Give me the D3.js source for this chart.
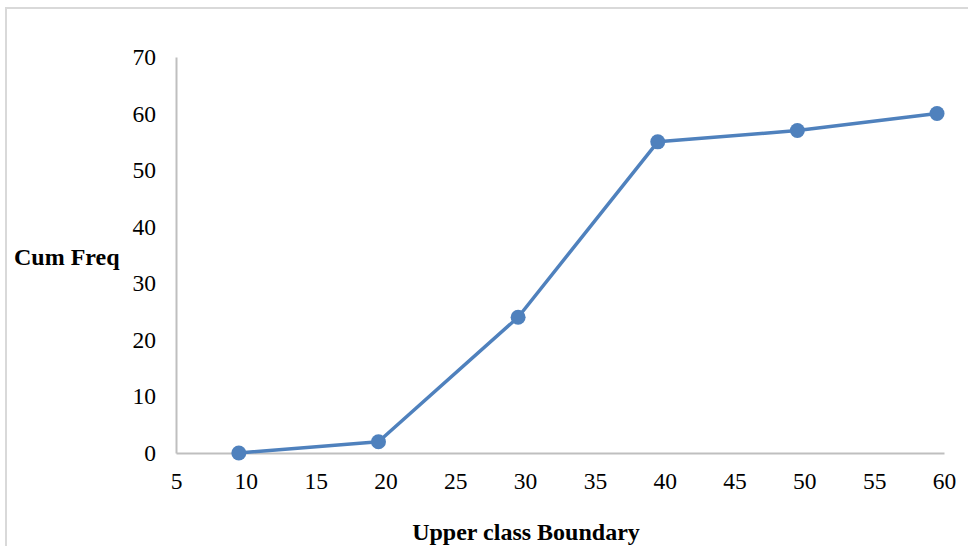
<!DOCTYPE html>
<html>
<head>
<meta charset="utf-8">
<script src="https://cdn.jsdelivr.net/npm/d3@7"></script>
<style>
  html, body { margin: 0; padding: 0; background: #fff; }
  svg { display: block; }
</style>
</head>
<body>
<svg id="chart" width="968" height="546"></svg>
<script>
// Cumulative frequency against upper class boundary (ogive)
const upperBoundaries = [9.5, 19.5, 29.5, 39.5, 49.5, 59.5];
const cumFreq = [0, 2, 24, 55, 57, 60];
const xTicks = [5, 10, 15, 20, 25, 30, 35, 40, 45, 50, 55, 60];
const yTicks = [0, 10, 20, 30, 40, 50, 60, 70];

const svg = d3.select("#chart");
const W = 968, H = 546;
const plot = { left: 176, right: 944, top: 57, bottom: 453 };
const font = "'Liberation Serif', 'Times New Roman', serif";

// outer chart frame
svg.append("rect")
  .attr("x", 6).attr("y", 8)
  .attr("width", W + 10).attr("height", H + 10)
  .attr("fill", "#fff")
  .attr("stroke", "#d9d9d9")
  .attr("stroke-width", 2);

const x = d3.scaleLinear().domain([5, 60]).range([plot.left, plot.right]);
const y = d3.scaleLinear().domain([0, 70]).range([plot.bottom, plot.top]);

// x axis
const xAxis = svg.append("g")
  .attr("transform", `translate(0,${plot.bottom})`)
  .call(d3.axisBottom(x).tickValues(xTicks).tickSize(0).tickPadding(19));
xAxis.select(".domain").attr("stroke", "#bfbfbf").attr("stroke-width", 2);
xAxis.selectAll("text")
  .attr("font-family", font).attr("font-size", 23.5).attr("fill", "#000");

// y axis
const yAxis = svg.append("g")
  .attr("transform", `translate(${plot.left},0)`)
  .call(d3.axisLeft(y).tickValues(yTicks).tickSize(0).tickPadding(20));
yAxis.select(".domain").attr("stroke", "#bfbfbf").attr("stroke-width", 2);
yAxis.selectAll("text")
  .attr("font-family", font).attr("font-size", 23.5).attr("fill", "#000");

// axis titles
svg.append("text")
  .attr("x", 14).attr("y", 265)
  .attr("font-family", font).attr("font-size", 24).attr("font-weight", "bold")
  .text("Cum Freq");

svg.append("text")
  .attr("x", 526).attr("y", 540)
  .attr("text-anchor", "middle")
  .attr("font-family", font).attr("font-size", 24).attr("font-weight", "bold")
  .text("Upper class Boundary");

// ogive line and markers
const pts = upperBoundaries.map((b, i) => [b, cumFreq[i]]);
svg.append("path")
  .datum(pts)
  .attr("fill", "none")
  .attr("stroke", "#4f81bd")
  .attr("stroke-width", 3.5)
  .attr("stroke-linejoin", "round")
  .attr("d", d3.line().x(d => x(d[0])).y(d => y(d[1])));

svg.append("g").selectAll("circle")
  .data(pts)
  .join("circle")
  .attr("cx", d => x(d[0]))
  .attr("cy", d => y(d[1]))
  .attr("r", 7.5)
  .attr("fill", "#4f81bd");
</script>
</body>
</html>
